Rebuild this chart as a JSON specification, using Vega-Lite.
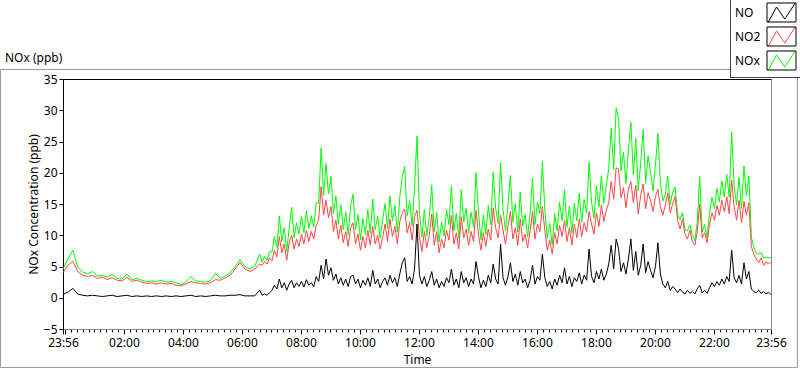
{
"$schema": "https://vega.github.io/schema/vega-lite/v6.json",
"width": 708, "height": 250,
"autosize": {"type": "none"},
"padding": {"left": 63, "top": 79, "right": 29, "bottom": 40},
"background": "white",
"title": {"text": "NOx (ppb)", "anchor": "start", "frame": "group", "dx": -58, "offset": -80, "baseline": "bottom", "fontSize": 12, "fontWeight": "normal", "font": "Noto Sans", "color": "#000"},
"config": {"font": "Noto Sans", "view": {"stroke": "#8a8a8a", "strokeWidth": 1}, "axis": {"labelOverlap": false}, "axisY": {"labelOverlap": false}, "axisLeft": {"labelOverlap": false}},
"data": {"values": [
{"t":-4,"NO":0.5,"NO2":4.0,"NOx":4.6},{"t":6,"NO":0.9,"NO2":5.2,"NOx":6.2},{"t":16,"NO":1.5,"NO2":5.8,"NOx":7.6},{"t":26,"NO":0.6,"NO2":4.2,"NOx":4.9},{"t":36,"NO":0.4,"NO2":3.6,"NOx":4.1},{"t":46,"NO":0.3,"NO2":3.4,"NOx":3.8},{"t":56,"NO":0.4,"NO2":3.6,"NOx":4.2},{"t":66,"NO":0.3,"NO2":3.1,"NOx":3.5},{"t":76,"NO":0.2,"NO2":3.3,"NOx":3.6},{"t":86,"NO":0.3,"NO2":2.9,"NOx":3.3},{"t":96,"NO":0.4,"NO2":3.2,"NOx":3.7},{"t":106,"NO":0.2,"NO2":2.8,"NOx":3.1},{"t":116,"NO":0.3,"NO2":2.7,"NOx":3.0},{"t":126,"NO":0.4,"NO2":3.3,"NOx":3.8},{"t":136,"NO":0.2,"NO2":2.6,"NOx":2.9},{"t":146,"NO":0.3,"NO2":2.8,"NOx":3.1},{"t":156,"NO":0.2,"NO2":2.5,"NOx":2.8},{"t":166,"NO":0.3,"NO2":2.3,"NOx":2.6},{"t":176,"NO":0.2,"NO2":2.4,"NOx":2.7},{"t":186,"NO":0.3,"NO2":2.2,"NOx":2.6},{"t":196,"NO":0.2,"NO2":2.4,"NOx":2.8},{"t":206,"NO":0.3,"NO2":2.2,"NOx":2.5},{"t":216,"NO":0.2,"NO2":2.3,"NOx":2.6},{"t":226,"NO":0.3,"NO2":2.0,"NOx":2.4},{"t":236,"NO":0.2,"NO2":1.9,"NOx":2.1},{"t":246,"NO":0.3,"NO2":2.2,"NOx":2.5},{"t":256,"NO":0.4,"NO2":2.6,"NOx":3.4},{"t":266,"NO":0.2,"NO2":2.4,"NOx":2.7},{"t":276,"NO":0.3,"NO2":2.3,"NOx":2.6},{"t":286,"NO":0.2,"NO2":2.2,"NOx":2.5},{"t":296,"NO":0.3,"NO2":2.4,"NOx":2.7},{"t":306,"NO":0.4,"NO2":2.9,"NOx":3.9},{"t":316,"NO":0.3,"NO2":2.8,"NOx":3.1},{"t":326,"NO":0.3,"NO2":3.2,"NOx":3.5},{"t":336,"NO":0.4,"NO2":3.6,"NOx":4.0},{"t":346,"NO":0.4,"NO2":4.6,"NOx":5.0},{"t":356,"NO":0.5,"NO2":5.6,"NOx":6.1},{"t":366,"NO":0.3,"NO2":4.6,"NOx":5.0},{"t":376,"NO":0.3,"NO2":4.2,"NOx":4.6},{"t":386,"NO":0.3,"NO2":4.6,"NOx":5.0},{"t":396,"NO":1.2,"NO2":5.4,"NOx":7.0},
{"t":401,"NO":0.4,"NO2":5.2,"NOx":5.7},{"t":406,"NO":0.6,"NO2":5.8,"NOx":6.6},{"t":411,"NO":0.4,"NO2":5.4,"NOx":6.0},{"t":416,"NO":0.8,"NO2":6.4,"NOx":7.4},{"t":421,"NO":1.2,"NO2":5.9,"NOx":7.3},{"t":426,"NO":2.0,"NO2":7.6,"NOx":9.8},{"t":431,"NO":1.4,"NO2":6.5,"NOx":8.1},{"t":436,"NO":3.0,"NO2":9.8,"NOx":13.1},{"t":441,"NO":1.6,"NO2":7.2,"NOx":9.0},{"t":446,"NO":2.4,"NO2":8.6,"NOx":11.2},{"t":451,"NO":1.2,"NO2":6.0,"NOx":7.4},{"t":456,"NO":2.2,"NO2":8.8,"NOx":11.1},{"t":461,"NO":2.8,"NO2":10.0,"NOx":14.5},{"t":466,"NO":1.6,"NO2":7.8,"NOx":9.6},{"t":471,"NO":2.4,"NO2":9.4,"NOx":12.0},{"t":476,"NO":1.8,"NO2":8.2,"NOx":10.2},{"t":481,"NO":2.6,"NO2":10.2,"NOx":13.0},{"t":486,"NO":1.7,"NO2":8.6,"NOx":10.4},{"t":491,"NO":2.9,"NO2":10.8,"NOx":13.9},{"t":496,"NO":2.0,"NO2":9.0,"NOx":11.1},{"t":501,"NO":2.4,"NO2":10.6,"NOx":13.1},{"t":506,"NO":1.8,"NO2":9.4,"NOx":11.3},{"t":511,"NO":3.4,"NO2":11.6,"NOx":15.2},{"t":516,"NO":2.6,"NO2":12.4,"NOx":15.1},{"t":521,"NO":5.2,"NO2":17.8,"NOx":24.0},{"t":526,"NO":3.0,"NO2":13.2,"NOx":16.4},{"t":531,"NO":6.2,"NO2":15.6,"NOx":21.5},{"t":536,"NO":3.6,"NO2":12.8,"NOx":16.6},{"t":541,"NO":4.8,"NO2":14.6,"NOx":19.4},{"t":546,"NO":2.8,"NO2":10.6,"NOx":13.5},{"t":551,"NO":3.8,"NO2":12.4,"NOx":16.3},{"t":556,"NO":2.2,"NO2":9.4,"NOx":11.7},{"t":561,"NO":3.2,"NO2":11.6,"NOx":14.9},{"t":566,"NO":2.0,"NO2":8.8,"NOx":10.9},{"t":571,"NO":3.0,"NO2":10.6,"NOx":13.7},{"t":576,"NO":1.8,"NO2":8.2,"NOx":10.1},{"t":581,"NO":3.4,"NO2":11.2,"NOx":14.8},{"t":586,"NO":3.6,"NO2":12.0,"NOx":16.6},{"t":591,"NO":2.2,"NO2":8.6,"NOx":10.9},{"t":596,"NO":3.0,"NO2":10.2,"NOx":13.3},{"t":601,"NO":1.6,"NO2":7.6,"NOx":9.3},{"t":606,"NO":2.8,"NO2":9.8,"NOx":12.7},{"t":611,"NO":2.0,"NO2":8.0,"NOx":10.1},{"t":616,"NO":3.2,"NO2":10.8,"NOx":14.1},{"t":621,"NO":1.8,"NO2":8.4,"NOx":10.3},{"t":626,"NO":4.4,"NO2":11.4,"NOx":15.8},{"t":631,"NO":2.2,"NO2":8.6,"NOx":10.9},{"t":636,"NO":3.0,"NO2":10.0,"NOx":13.1},{"t":641,"NO":1.6,"NO2":7.8,"NOx":9.5},{"t":646,"NO":2.6,"NO2":9.6,"NOx":12.3},{"t":651,"NO":3.2,"NO2":11.8,"NOx":15.1},{"t":656,"NO":2.0,"NO2":9.0,"NOx":11.1},{"t":661,"NO":3.6,"NO2":12.6,"NOx":16.3},{"t":666,"NO":2.4,"NO2":9.8,"NOx":12.3},{"t":671,"NO":3.2,"NO2":11.4,"NOx":14.7},{"t":676,"NO":1.8,"NO2":8.6,"NOx":10.5},{"t":681,"NO":3.8,"NO2":12.2,"NOx":16.1},{"t":686,"NO":5.6,"NO2":13.6,"NOx":19.4},{"t":691,"NO":6.4,"NO2":14.2,"NOx":21.0},{"t":696,"NO":2.6,"NO2":10.4,"NOx":13.1},{"t":701,"NO":3.4,"NO2":12.0,"NOx":15.5},{"t":706,"NO":2.2,"NO2":9.2,"NOx":11.5},{"t":711,"NO":4.6,"NO2":13.0,"NOx":17.8},{"t":716,"NO":11.8,"NO2":14.0,"NOx":25.9},{"t":721,"NO":3.6,"NO2":9.8,"NOx":13.5},{"t":726,"NO":2.2,"NO2":7.4,"NOx":9.7},{"t":731,"NO":3.4,"NO2":10.6,"NOx":14.1},{"t":736,"NO":1.8,"NO2":8.0,"NOx":9.9},{"t":741,"NO":2.8,"NO2":10.0,"NOx":12.9},{"t":746,"NO":4.2,"NO2":13.4,"NOx":18.0},{"t":751,"NO":2.0,"NO2":8.4,"NOx":10.5},{"t":756,"NO":3.0,"NO2":10.6,"NOx":13.7},{"t":761,"NO":1.6,"NO2":7.2,"NOx":8.9},{"t":766,"NO":2.6,"NO2":9.4,"NOx":12.1},{"t":771,"NO":1.8,"NO2":8.0,"NOx":9.9},{"t":776,"NO":3.2,"NO2":10.8,"NOx":14.1},{"t":781,"NO":2.4,"NO2":9.2,"NOx":11.7},{"t":786,"NO":4.6,"NO2":13.2,"NOx":17.9},{"t":791,"NO":2.0,"NO2":8.6,"NOx":10.7},{"t":796,"NO":3.0,"NO2":10.4,"NOx":13.5},{"t":801,"NO":1.6,"NO2":7.8,"NOx":9.5},{"t":806,"NO":4.2,"NO2":13.0,"NOx":17.3},{"t":811,"NO":2.4,"NO2":9.6,"NOx":12.1},{"t":816,"NO":3.2,"NO2":11.0,"NOx":14.3},{"t":821,"NO":1.8,"NO2":8.4,"NOx":10.3},{"t":826,"NO":3.0,"NO2":10.6,"NOx":13.7},{"t":831,"NO":2.2,"NO2":9.0,"NOx":11.3},{"t":836,"NO":5.8,"NO2":14.0,"NOx":20.0},{"t":841,"NO":3.4,"NO2":10.2,"NOx":13.8},{"t":846,"NO":1.6,"NO2":7.6,"NOx":9.3},{"t":851,"NO":2.8,"NO2":10.4,"NOx":13.3},{"t":856,"NO":1.8,"NO2":8.2,"NOx":10.1},{"t":861,"NO":3.6,"NO2":11.0,"NOx":14.7},{"t":866,"NO":2.4,"NO2":9.2,"NOx":11.7},{"t":871,"NO":5.4,"NO2":14.4,"NOx":20.1},{"t":876,"NO":3.0,"NO2":11.2,"NOx":14.3},{"t":881,"NO":2.2,"NO2":9.6,"NOx":11.9},{"t":886,"NO":8.6,"NO2":13.2,"NOx":21.6},{"t":891,"NO":3.2,"NO2":10.8,"NOx":14.1},{"t":896,"NO":2.0,"NO2":8.6,"NOx":10.7},{"t":901,"NO":3.4,"NO2":11.4,"NOx":14.9},{"t":906,"NO":5.6,"NO2":13.8,"NOx":19.6},{"t":911,"NO":2.6,"NO2":9.4,"NOx":12.1},{"t":916,"NO":3.8,"NO2":11.2,"NOx":15.1},{"t":921,"NO":2.0,"NO2":8.4,"NOx":10.5},{"t":926,"NO":4.2,"NO2":12.6,"NOx":16.9},{"t":931,"NO":2.4,"NO2":9.0,"NOx":11.5},{"t":936,"NO":3.0,"NO2":10.2,"NOx":13.3},{"t":941,"NO":1.6,"NO2":8.0,"NOx":9.7},{"t":946,"NO":2.8,"NO2":10.6,"NOx":13.5},{"t":951,"NO":5.2,"NO2":13.8,"NOx":19.1},{"t":956,"NO":2.2,"NO2":9.4,"NOx":11.7},{"t":961,"NO":3.4,"NO2":11.8,"NOx":15.3},{"t":966,"NO":2.8,"NO2":10.6,"NOx":13.5},{"t":971,"NO":7.0,"NO2":14.6,"NOx":21.8},{"t":976,"NO":3.2,"NO2":10.8,"NOx":14.1},{"t":981,"NO":1.8,"NO2":7.6,"NOx":9.5},{"t":986,"NO":2.6,"NO2":9.2,"NOx":11.9},{"t":991,"NO":1.4,"NO2":7.0,"NOx":8.5},{"t":996,"NO":3.0,"NO2":10.4,"NOx":13.5},{"t":1001,"NO":2.0,"NO2":8.6,"NOx":10.7},{"t":1006,"NO":3.6,"NO2":11.6,"NOx":15.3},{"t":1011,"NO":2.4,"NO2":9.8,"NOx":12.3},{"t":1016,"NO":4.8,"NO2":12.4,"NOx":17.3},{"t":1021,"NO":2.2,"NO2":9.0,"NOx":11.3},{"t":1026,"NO":3.4,"NO2":11.2,"NOx":14.7},{"t":1031,"NO":1.8,"NO2":8.4,"NOx":10.3},{"t":1036,"NO":3.2,"NO2":11.8,"NOx":15.1},{"t":1041,"NO":2.6,"NO2":9.6,"NOx":12.3},{"t":1046,"NO":4.0,"NO2":12.6,"NOx":16.7},{"t":1051,"NO":2.2,"NO2":9.8,"NOx":12.1},{"t":1056,"NO":3.6,"NO2":12.0,"NOx":15.7},{"t":1061,"NO":2.8,"NO2":10.6,"NOx":13.5},{"t":1066,"NO":7.8,"NO2":13.8,"NOx":21.7},{"t":1071,"NO":3.4,"NO2":11.8,"NOx":15.3},{"t":1076,"NO":2.4,"NO2":10.2,"NOx":12.7},{"t":1081,"NO":4.2,"NO2":13.6,"NOx":17.9},{"t":1086,"NO":3.0,"NO2":11.4,"NOx":14.5},{"t":1091,"NO":4.6,"NO2":14.8,"NOx":19.5},{"t":1096,"NO":2.8,"NO2":12.2,"NOx":15.1},{"t":1101,"NO":3.8,"NO2":14.0,"NOx":17.9},{"t":1106,"NO":5.4,"NO2":15.2,"NOx":20.7},{"t":1111,"NO":8.4,"NO2":18.6,"NOx":27.1},{"t":1116,"NO":4.6,"NO2":15.8,"NOx":20.5},{"t":1121,"NO":9.4,"NO2":20.8,"NOx":30.4},{"t":1126,"NO":7.8,"NO2":20.6,"NOx":28.6},{"t":1131,"NO":4.2,"NO2":16.0,"NOx":20.3},{"t":1136,"NO":5.6,"NO2":17.6,"NOx":23.3},{"t":1141,"NO":3.8,"NO2":14.4,"NOx":18.3},{"t":1146,"NO":6.2,"NO2":17.4,"NOx":23.7},{"t":1151,"NO":9.4,"NO2":18.6,"NOx":28.1},{"t":1156,"NO":4.4,"NO2":15.2,"NOx":19.7},{"t":1161,"NO":7.4,"NO2":18.0,"NOx":25.5},{"t":1166,"NO":3.6,"NO2":13.4,"NOx":17.1},{"t":1171,"NO":5.2,"NO2":16.4,"NOx":21.7},{"t":1176,"NO":8.6,"NO2":18.2,"NOx":26.9},{"t":1181,"NO":4.0,"NO2":14.2,"NOx":18.3},{"t":1186,"NO":5.8,"NO2":16.8,"NOx":22.7},{"t":1191,"NO":4.4,"NO2":15.6,"NOx":20.1},{"t":1196,"NO":3.2,"NO2":13.8,"NOx":17.1},{"t":1201,"NO":5.0,"NO2":16.2,"NOx":21.3},{"t":1206,"NO":8.8,"NO2":17.4,"NOx":26.3},{"t":1211,"NO":3.8,"NO2":14.6,"NOx":18.5},{"t":1216,"NO":2.2,"NO2":13.2,"NOx":15.5},{"t":1221,"NO":1.6,"NO2":14.8,"NOx":16.5},{"t":1226,"NO":2.6,"NO2":16.8,"NOx":19.5},{"t":1231,"NO":1.2,"NO2":13.6,"NOx":14.9},{"t":1236,"NO":1.8,"NO2":15.0,"NOx":16.9},{"t":1241,"NO":1.4,"NO2":16.2,"NOx":17.7},{"t":1246,"NO":0.8,"NO2":12.4,"NOx":13.3},{"t":1251,"NO":1.4,"NO2":11.0,"NOx":12.5},{"t":1256,"NO":0.9,"NO2":12.6,"NOx":13.6},{"t":1261,"NO":0.6,"NO2":10.2,"NOx":10.9},{"t":1266,"NO":1.2,"NO2":9.4,"NOx":10.7},{"t":1271,"NO":0.7,"NO2":10.8,"NOx":11.6},{"t":1276,"NO":1.0,"NO2":9.0,"NOx":10.1},{"t":1281,"NO":0.6,"NO2":8.4,"NOx":9.1},{"t":1286,"NO":1.4,"NO2":10.6,"NOx":12.1},{"t":1291,"NO":2.0,"NO2":15.0,"NOx":19.4},{"t":1296,"NO":0.8,"NO2":9.6,"NOx":10.5},{"t":1301,"NO":1.2,"NO2":10.4,"NOx":11.7},{"t":1306,"NO":0.7,"NO2":8.8,"NOx":9.6},{"t":1311,"NO":1.6,"NO2":11.8,"NOx":13.5},{"t":1316,"NO":2.4,"NO2":13.6,"NOx":16.1},{"t":1321,"NO":1.8,"NO2":12.4,"NOx":14.3},{"t":1326,"NO":2.6,"NO2":14.8,"NOx":17.5},{"t":1331,"NO":2.0,"NO2":13.2,"NOx":15.3},{"t":1336,"NO":3.0,"NO2":15.6,"NOx":18.7},{"t":1341,"NO":2.2,"NO2":13.8,"NOx":16.1},{"t":1346,"NO":3.4,"NO2":16.2,"NOx":19.7},{"t":1351,"NO":2.6,"NO2":13.4,"NOx":16.1},{"t":1356,"NO":7.6,"NO2":18.8,"NOx":26.5},{"t":1361,"NO":3.2,"NO2":14.6,"NOx":17.9},{"t":1366,"NO":2.4,"NO2":12.4,"NOx":14.9},{"t":1371,"NO":3.6,"NO2":15.6,"NOx":19.3},{"t":1376,"NO":2.2,"NO2":12.0,"NOx":14.3},{"t":1381,"NO":5.6,"NO2":15.4,"NOx":21.1},{"t":1386,"NO":3.0,"NO2":13.2,"NOx":16.3},{"t":1391,"NO":4.2,"NO2":15.2,"NOx":19.5},{"t":1396,"NO":1.4,"NO2":8.2,"NOx":9.7},{"t":1401,"NO":1.0,"NO2":7.0,"NOx":8.1},{"t":1406,"NO":0.8,"NO2":6.2,"NOx":7.1},{"t":1411,"NO":1.2,"NO2":5.6,"NOx":7.0},{"t":1416,"NO":0.7,"NO2":6.4,"NOx":7.2},{"t":1421,"NO":1.0,"NO2":5.2,"NOx":6.3},{"t":1426,"NO":0.6,"NO2":5.8,"NOx":6.5},{"t":1431,"NO":0.9,"NO2":5.4,"NOx":6.4},{"t":1436,"NO":0.5,"NO2":5.8,"NOx":6.4}
]},
"resolve": {"axis": {"x": "independent"}},
"layer": [
{"mark": {"type": "rule", "opacity": 0},
 "encoding": {
  "stroke": {"datum": 0, "type": "quantitative", "scale": {"domain": [0, 1], "range": ["rgba(255,255,255,0)", "rgba(255,255,255,0)"]},
    "legend": {"orient": "none", "legendX": -62.5, "legendY": -9.5, "direction": "horizontal", "type": "gradient", "title": null, "padding": 0,
      "gradientLength": 797, "gradientThickness": 298, "gradientStrokeColor": "#9a9a9a", "gradientStrokeWidth": 1, "labelExpr": "''", "labelFontSize": 1, "tickCount": 2}}
 }},
{"mark": {"type": "line", "strokeWidth": 1},
 "encoding": {
  "x": {"field": "t", "type": "quantitative", "scale": {"domain": [-4, 1436], "nice": false, "zero": false},
    "axis": {"orient": "bottom", "title": "Time", "titleFontSize": 12, "titleFontWeight": "normal", "titleColor": "#000", "titlePadding": 6,
      "values": [-4,0,12,24,36,48,60,72,84,96,108,120,132,144,156,168,180,192,204,216,228,240,252,264,276,288,300,312,324,336,348,360,372,384,396,408,420,432,444,456,468,480,492,504,516,528,540,552,564,576,588,600,612,624,636,648,660,672,684,696,708,720,732,744,756,768,780,792,804,816,828,840,852,864,876,888,900,912,924,936,948,960,972,984,996,1008,1020,1032,1044,1056,1068,1080,1092,1104,1116,1128,1140,1152,1164,1176,1188,1200,1212,1224,1236,1248,1260,1272,1284,1296,1308,1320,1332,1344,1356,1368,1380,1392,1404,1416,1428,1436],
      "labelExpr": "datum.value < 0 || datum.value > 1430 ? '23:56' : (datum.value > 0 && datum.value % 120 == 0 ? (datum.value < 600 ? '0' : '') + (datum.value / 60) + ':00' : '')",
      "labelOverlap": false, "labelFlush": false, "labelBound": false, "labelFontSize": 12, "labelColor": "#000", "labelPadding": 3,
      "tickColor": "#000", "tickSize": {"condition": {"test": "datum.value % 120 == 0 || datum.value < 0 || datum.value > 1430", "value": 5}, "value": 3},
      "domainColor": "#8a8a8a", "grid": false}},
  "y": {"field": "NOx", "type": "quantitative", "scale": {"domain": [-5, 35], "nice": false, "zero": false},
    "axis": {"title": "NOx Concentration (ppb)", "titleFontSize": 12, "titleFontWeight": "normal", "titleColor": "#000", "titlePadding": 3,
      "values": [-5,0,5,10,15,20,25,30,35], "labelOverlap": false, "labelBound": false, "labelFlush": false, "labelFontSize": 12, "labelColor": "#000", "labelPadding": 2, "tickSize": 4, "tickColor": "#000", "domainColor": "#000", "grid": false}},
  "color": {"datum": "NOx", "type": "nominal", "scale": {"domain": ["NO", "NO2", "NOx"], "range": ["#000000", "#ff4545", "#00ff00"]},
    "legend": {"orient": "none", "legendX": 667, "legendY": -82, "title": null, "padding": 4, "rowPadding": -1.5,
      "symbolType": "M-1.2,0.864L-0.45,-0.5L0.3,0.6L1.25,-0.864", "symbolSize": 484, "symbolStrokeWidth": 1, "symbolFillColor": "transparent",
      "symbolOffset": 36, "labelOffset": -58, "labelFontSize": 12, "labelColor": "#000", "strokeColor": "#444", "fillColor": "white"}},
  "opacity": {"datum": "b3", "type": "ordinal", "scale": {"domain": ["b1", "b2", "b3"], "range": [1, 1, 1]},
    "legend": {"orient": "none", "legendX": 667, "legendY": -82, "title": null, "padding": 4, "rowPadding": -1.5,
      "symbolType": "M-1.318,-0.864H1.318V0.864H-1.318Z", "symbolSize": 484, "symbolStrokeWidth": 1, "symbolStrokeColor": "#000", "symbolFillColor": "transparent",
      "symbolOffset": 36, "labelOffset": -58, "labelFontSize": 12, "labelOpacity": 0,
      "labelExpr": "datum.label == 'b1' ? 'NO' : (datum.label == 'b2' ? 'NO2' : 'NOx')",
      "encode": {"symbols": {"update": {"stroke": {"value": "#000"}, "fill": {"value": "transparent"}, "opacity": {"value": 1}}}}}}
 }},
{"mark": {"type": "line", "strokeWidth": 1},
 "encoding": {
  "x": {"field": "t", "type": "quantitative", "axis": {"orient": "top", "labels": false, "ticks": false, "domain": true, "domainColor": "#000", "title": null, "grid": false}},
  "y": {"field": "NO2", "type": "quantitative", "axis": {"values": [-5,0,5,10,15,20,25,30,35], "labelOverlap": false}},
  "color": {"datum": "NO2", "type": "nominal"}
 }},
{"mark": {"type": "line", "strokeWidth": 1},
 "encoding": {
  "x": {"field": "t", "type": "quantitative", "axis": null},
  "y": {"field": "NO", "type": "quantitative", "axis": {"values": [-5,0,5,10,15,20,25,30,35], "labelOverlap": false}},
  "color": {"datum": "NO", "type": "nominal"}
 }}
]
}
